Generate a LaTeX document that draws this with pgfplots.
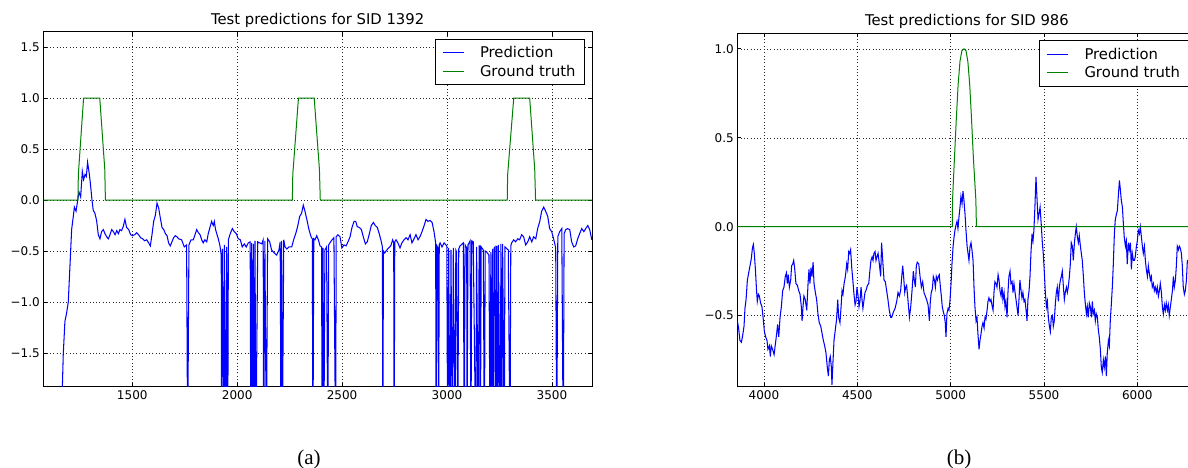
\documentclass[border=0pt]{standalone}
\usepackage{fontspec}
\setmainfont{DejaVu Sans}
\newfontfamily\capfont{Liberation Serif}
\usepackage{pgfplots}
\pgfplotsset{compat=1.18}
\definecolor{pred}{RGB}{0,0,255}
\definecolor{truth}{RGB}{0,128,0}

\pgfplotsset{
  mpl/.style={
    scale only axis,
    axis line style={black, line width=0.8pt},
    tick align=inside,
    tick pos=both,
    major tick length=4pt,
    tick style={black, line width=0.8pt},
    grid=major,
    grid style={black!85, line width=0.5pt, dash pattern=on 1pt off 2.3pt},
    tick label style={font=\fontsize{12}{14}\selectfont},
    title style={font=\fontsize{14.8}{17}\selectfont, yshift=-5pt},
    legend style={at={(1,1)}, xshift=-7pt, yshift=-7pt, anchor=north east,
      draw=black, line width=0.8pt, font=\fontsize{14.8}{17}\selectfont,
      inner xsep=7pt, inner ysep=5pt, row sep=2pt,
      nodes={inner sep=2pt},
      /tikz/every odd column/.append style={column sep=14pt}},
    legend cell align=left,
  },
  predline/.style={draw=pred, line width=1.05pt,
    legend image code/.code={\draw[draw=pred, line width=0.9pt] (0pt,0pt) -- (21pt,0pt);}},
  truthline/.style={draw=truth, line width=1.0pt,
    legend image code/.code={\draw[draw=truth, line width=0.9pt] (0pt,0pt) -- (21pt,0pt);}},
}

\begin{document}
\begin{tikzpicture}
\useasboundingbox (0pt,0pt) rectangle (1188pt,468pt);

% (a) SID 1392
\begin{axis}[mpl,
  at={(43.3pt,81.3pt)}, anchor=south west,
  width=548.7pt, height=355pt,
  xmin=1076, xmax=3691, ymin=-1.83, ymax=1.65,
  xtick={1500,2000,2500,3000,3500},
  xticklabels={1500,2000,2500,3000,3500},
  ytick={-1.5,-1,-0.5,0,0.5,1,1.5},
  yticklabels={−1.5,−1.0,−0.5,0.0,0.5,1.0,1.5},
  title={Test predictions for SID 1392},
]
\addplot[predline] coordinates {
(1166,-1.9) (1171,-1.52) (1179,-1.19) (1187,-1.11) (1195,-1.00) (1203,-0.65) (1211,-0.29) (1219,-0.16)
(1224,-0.07) (1232,-0.11) (1238,-0.03) (1246,0.08) (1254,0.03) (1262,0.28) (1268,0.20) (1275,0.25)
(1281,0.23) (1287,0.37) (1295,0.26) (1302,0.13) (1308,0.00) (1314,-0.10) (1322,-0.13) (1330,-0.20)
(1338,-0.34) (1346,-0.38) (1354,-0.31) (1362,-0.29) (1370,-0.33) (1378,-0.36) (1386,-0.38) (1394,-0.34)
(1402,-0.29) (1410,-0.31) (1418,-0.34) (1426,-0.30) (1434,-0.33) (1441,-0.29) (1449,-0.30) (1457,-0.26)
(1465,-0.19) (1473,-0.27) (1483,-0.29) (1492,-0.34) (1502,-0.35) (1511,-0.34) (1521,-0.32) (1530,-0.34)
(1540,-0.37) (1550,-0.38) (1559,-0.40) (1569,-0.39) (1578,-0.42) (1586,-0.45) (1594,-0.34) (1602,-0.21)
(1610,-0.15) (1618,-0.03) (1626,-0.08) (1634,-0.18) (1642,-0.27) (1650,-0.29) (1658,-0.33) (1666,-0.35)
(1673,-0.42) (1681,-0.45) (1689,-0.41) (1697,-0.37) (1705,-0.35) (1713,-0.36) (1721,-0.38) (1735,-0.39)
(1748,-0.46) (1759,-0.44) (1764,-2.5) (1770,-0.44) (1780,-0.39) (1791,-0.39) (1799,-0.34) (1807,-0.29)
(1815,-0.32) (1823,-0.34) (1831,-0.39) (1838,-0.42) (1846,-0.39) (1855,-0.41) (1862,-0.33) (1870,-0.27)
(1878,-0.21) (1886,-0.25) (1891,-0.21) (1897,-0.29) (1904,-0.34) (1910,-0.38) (1918,-0.45) (1924,-0.54)
(1926,-2.5) (1930,-0.48) (1936,-2.5) (1939,-0.44) (1945,-2.5) (1950,-0.46) (1955,-2.5) (1958,-0.39)
(1967,-0.33) (1977,-0.28) (1986,-0.31) (1996,-0.33) (2005,-0.38) (2015,-0.39) (2024,-0.46) (2034,-0.43)
(2043,-0.46) (2053,-0.42) (2062,-0.41) (2065,-2.5) (2069,-0.42) (2073,-2.5) (2077,-0.43) (2081,-2.5)
(2085,-0.40) (2089,-2.5) (2098,-0.41) (2107,-0.42) (2117,-0.43) (2124,-0.39) (2126,-2.5) (2132,-0.40)
(2139,-2.5) (2145,-0.38) (2155,-0.41) (2164,-0.49) (2177,-0.52) (2188,-0.54) (2199,-0.49) (2205,-0.41)
(2209,-2.5) (2212,-0.40) (2215,-2.5) (2222,-0.39) (2228,-0.46) (2237,-0.48) (2247,-0.46) (2260,-0.46)
(2269,-0.39) (2279,-0.33) (2288,-0.26) (2298,-0.16) (2307,-0.13) (2315,-0.05) (2323,-0.11) (2333,-0.20)
(2342,-0.29) (2352,-0.36) (2358,-0.38) (2361,-2.5) (2365,-0.38) (2371,-0.39) (2379,-0.35) (2387,-0.39)
(2395,-0.45) (2402,-0.46) (2405,-2.5) (2409,-0.47) (2413,-2.5) (2418,-0.49) (2426,-0.46) (2432,-2.5)
(2436,-0.44) (2442,-0.42) (2452,-0.39) (2461,-0.37) (2469,-2.5) (2472,-0.36) (2480,-0.34) (2490,-0.36)
(2499,-0.47) (2509,-0.44) (2519,-0.45) (2528,-0.41) (2538,-0.36) (2547,-0.27) (2557,-0.21) (2565,-0.21)
(2572,-0.26) (2582,-0.27) (2592,-0.29) (2601,-0.36) (2611,-0.43) (2620,-0.41) (2630,-0.33) (2639,-0.25)
(2649,-0.22) (2658,-0.25) (2668,-0.27) (2677,-0.33) (2687,-0.41) (2692,-0.46) (2694,-2.5) (2697,-0.50)
(2703,-0.52) (2713,-0.49) (2722,-0.47) (2732,-0.45) (2741,-0.39) (2746,-0.42) (2748,-2.5) (2751,-0.41)
(2757,-0.39) (2766,-0.42) (2776,-0.47) (2785,-0.42) (2795,-0.39) (2805,-0.37) (2814,-0.39) (2824,-0.34)
(2833,-0.42) (2843,-0.38) (2852,-0.34) (2862,-0.39) (2871,-0.36) (2881,-0.31) (2891,-0.25) (2900,-0.19)
(2909,-0.21) (2919,-0.20) (2929,-0.22) (2938,-0.31) (2946,-0.42) (2948,-2.5) (2952,-0.45) (2957,-0.47)
(2960,-2.5) (2963,-0.44) (2967,-0.42) (2976,-0.46) (2986,-0.42) (2999,-0.45) (3003,-2.5) (3008,-0.47)
(3014,-2.5) (3019,-0.49) (3025,-2.5) (3030,-0.47) (3038,-2.5) (3042,-0.49) (3046,-0.51) (3051,-2.5)
(3056,-0.48) (3062,-0.45) (3078,-0.42) (3082,-2.5) (3086,-0.44) (3094,-0.47) (3095,-2.5) (3100,-0.44)
(3110,-0.40) (3114,-2.5) (3118,-0.40) (3125,-0.41) (3137,-2.5) (3141,-0.46) (3149,-2.5) (3153,-0.45)
(3157,-0.45) (3159,-2.5) (3163,-0.46) (3173,-0.49) (3178,-2.5) (3182,-0.50) (3189,-0.51) (3200,-0.54)
(3205,-2.5) (3209,-0.51) (3213,-2.5) (3217,-0.48) (3221,-2.5) (3225,-0.47) (3229,-0.46) (3232,-2.5)
(3237,-0.45) (3242,-2.5) (3245,-0.44) (3253,-2.5) (3257,-0.43) (3261,-2.5) (3265,-0.43) (3273,-2.5)
(3276,-0.46) (3292,-0.49) (3300,-2.5) (3304,-0.45) (3308,-0.42) (3318,-0.39) (3327,-0.41) (3337,-0.38)
(3346,-0.39) (3356,-0.34) (3365,-0.36) (3375,-0.44) (3385,-0.41) (3394,-0.36) (3404,-0.41) (3413,-0.36)
(3423,-0.38) (3432,-0.28) (3442,-0.21) (3451,-0.11) (3461,-0.07) (3470,-0.11) (3480,-0.16) (3489,-0.28)
(3499,-0.31) (3509,-0.39) (3518,-0.47) (3523,-2.5) (3528,-0.36) (3537,-0.31) (3547,-0.28) (3554,-2.5)
(3558,-0.33) (3566,-0.29) (3575,-0.28) (3585,-0.29) (3594,-0.41) (3604,-0.46) (3613,-0.45) (3623,-0.38)
(3632,-0.33) (3642,-0.28) (3652,-0.31) (3661,-0.28) (3671,-0.25) (3680,-0.29) (3690,-0.39)
};
\addlegendentry{Prediction}
\addplot[truthline] coordinates {
(1076,0) (1241,0) (1243,0.25) (1268,1) (1345,1) (1369,0.3) (1372,0)
(2263,0) (2265,0.25) (2292,1) (2367,1) (2392,0.3) (2396,0)
(3287,0) (3289,0.25) (3318,1) (3394,1) (3418,0.3) (3422,0) (3691,0)
};
\addlegendentry{Ground truth}
\end{axis}

% (b) SID 986
\begin{axis}[mpl,
  at={(737.3pt,81.3pt)}, anchor=south west,
  width=459.2pt, height=353.3pt,
  xmin=3857, xmax=6317, ymin=-0.90, ymax=1.087,
  xtick={4000,4500,5000,5500,6000},
  xticklabels={4000,4500,5000,5500,6000},
  ytick={-0.5,0,0.5,1},
  yticklabels={−0.5,0.0,0.5,1.0},
  title={Test predictions for SID 986},
]
\addplot[predline] coordinates {
(3857,-0.53) (3864,-0.57) (3871,-0.64) (3879,-0.65) (3886,-0.61) (3893,-0.56) (3898,-0.46) (3904,-0.41)
(3911,-0.30) (3918,-0.26) (3925,-0.22) (3932,-0.18) (3938,-0.12) (3943,-0.10) (3948,-0.15) (3954,-0.24)
(3959,-0.34) (3964,-0.42) (3970,-0.38) (3975,-0.39) (3982,-0.43) (3989,-0.45) (3996,-0.52) (4002,-0.59)
(4009,-0.62) (4016,-0.64) (4021,-0.69) (4029,-0.67) (4034,-0.73) (4039,-0.67) (4046,-0.69) (4054,-0.72)
(4061,-0.66) (4068,-0.60) (4073,-0.55) (4079,-0.62) (4086,-0.51) (4093,-0.45) (4100,-0.36) (4107,-0.34)
(4114,-0.28) (4120,-0.26) (4125,-0.32) (4130,-0.27) (4136,-0.34) (4143,-0.30) (4148,-0.22) (4154,-0.21)
(4159,-0.19) (4164,-0.23) (4171,-0.32) (4179,-0.33) (4186,-0.36) (4193,-0.38) (4200,-0.45) (4204,-0.53)
(4209,-0.45) (4214,-0.39) (4221,-0.41) (4229,-0.47) (4236,-0.32) (4241,-0.24) (4246,-0.32) (4252,-0.23)
(4257,-0.28) (4263,-0.20) (4268,-0.32) (4275,-0.37) (4282,-0.41) (4289,-0.49) (4296,-0.54) (4304,-0.56)
(4311,-0.60) (4318,-0.64) (4325,-0.67) (4332,-0.71) (4339,-0.79) (4345,-0.84) (4350,-0.75) (4355,-0.73)
(4361,-0.79) (4364,-0.89) (4370,-0.75) (4375,-0.64) (4382,-0.58) (4389,-0.52) (4395,-0.41) (4400,-0.51)
(4407,-0.54) (4413,-0.45) (4418,-0.36) (4423,-0.38) (4429,-0.32) (4436,-0.28) (4443,-0.21) (4448,-0.24)
(4454,-0.14) (4459,-0.15) (4464,-0.13) (4470,-0.23) (4475,-0.29) (4482,-0.38) (4488,-0.44) (4493,-0.42)
(4498,-0.34) (4504,-0.39) (4509,-0.45) (4514,-0.42) (4520,-0.34) (4525,-0.41) (4530,-0.46) (4536,-0.41)
(4541,-0.37) (4546,-0.36) (4554,-0.33) (4561,-0.32) (4568,-0.24) (4573,-0.19) (4579,-0.17) (4584,-0.19)
(4589,-0.15) (4595,-0.14) (4600,-0.19) (4605,-0.17) (4611,-0.15) (4618,-0.21) (4625,-0.28) (4630,-0.09)
(4636,-0.19) (4643,-0.30) (4650,-0.31) (4657,-0.36) (4664,-0.41) (4671,-0.47) (4679,-0.51) (4684,-0.51)
(4693,-0.48) (4702,-0.46) (4711,-0.42) (4718,-0.37) (4725,-0.39) (4732,-0.36) (4738,-0.28) (4743,-0.22)
(4748,-0.28) (4754,-0.37) (4759,-0.34) (4764,-0.33) (4771,-0.41) (4779,-0.51) (4786,-0.45) (4793,-0.36)
(4800,-0.25) (4805,-0.30) (4811,-0.34) (4816,-0.22) (4821,-0.20) (4829,-0.21) (4836,-0.28) (4843,-0.34)
(4850,-0.31) (4857,-0.37) (4864,-0.39) (4871,-0.41) (4879,-0.44) (4886,-0.53) (4891,-0.42) (4896,-0.37)
(4902,-0.35) (4907,-0.28) (4913,-0.30) (4918,-0.34) (4923,-0.28) (4929,-0.30) (4934,-0.28) (4939,-0.27)
(4945,-0.34) (4950,-0.39) (4955,-0.45) (4961,-0.48) (4966,-0.50) (4971,-0.54) (4975,-0.62) (4980,-0.49)
(4986,-0.46) (4991,-0.47) (4996,-0.42) (5002,-0.32) (5007,-0.21) (5013,-0.11) (5018,-0.06) (5023,-0.02)
(5029,0.01) (5034,0.03) (5039,-0.01) (5045,0.06) (5050,0.11) (5055,0.17) (5061,0.13) (5066,0.20)
(5071,0.15) (5077,0.07) (5082,-0.02) (5088,-0.11) (5093,-0.15) (5098,-0.19) (5104,-0.11) (5109,-0.09)
(5114,-0.13) (5120,-0.19) (5125,-0.34) (5130,-0.45) (5136,-0.53) (5141,-0.51) (5146,-0.60) (5152,-0.69)
(5157,-0.64) (5163,-0.60) (5168,-0.56) (5173,-0.54) (5179,-0.57) (5184,-0.51) (5189,-0.52) (5195,-0.47)
(5200,-0.42) (5205,-0.40) (5211,-0.42) (5216,-0.41) (5221,-0.44) (5227,-0.47) (5232,-0.37) (5237,-0.31)
(5243,-0.32) (5248,-0.34) (5254,-0.27) (5259,-0.30) (5264,-0.36) (5270,-0.39) (5275,-0.34) (5280,-0.41)
(5286,-0.37) (5291,-0.45) (5296,-0.42) (5302,-0.51) (5307,-0.37) (5312,-0.28) (5318,-0.25) (5323,-0.32)
(5329,-0.31) (5334,-0.37) (5339,-0.32) (5345,-0.37) (5350,-0.41) (5355,-0.45) (5361,-0.50) (5366,-0.41)
(5371,-0.30) (5377,-0.36) (5382,-0.40) (5387,-0.37) (5393,-0.42) (5398,-0.41) (5404,-0.47) (5409,-0.53)
(5414,-0.41) (5420,-0.36) (5425,-0.28) (5430,-0.15) (5436,-0.04) (5441,-0.08) (5446,-0.02) (5452,0.13)
(5457,0.28) (5462,0.17) (5468,0.04) (5473,0.07) (5479,0.11) (5486,0.00) (5491,-0.09) (5496,-0.15)
(5502,-0.26) (5507,-0.37) (5513,-0.45) (5518,-0.42) (5523,-0.51) (5529,-0.56) (5534,-0.59) (5539,-0.51)
(5545,-0.50) (5550,-0.56) (5555,-0.53) (5561,-0.43) (5566,-0.37) (5571,-0.34) (5577,-0.42) (5582,-0.34)
(5588,-0.30) (5593,-0.28) (5598,-0.25) (5604,-0.34) (5609,-0.41) (5614,-0.37) (5620,-0.34) (5625,-0.37)
(5630,-0.34) (5636,-0.28) (5641,-0.21) (5646,-0.09) (5652,-0.11) (5657,-0.19) (5663,-0.09) (5668,-0.04)
(5673,0.00) (5679,-0.06) (5684,-0.09) (5689,-0.05) (5695,-0.11) (5700,-0.15) (5705,-0.19) (5711,-0.28)
(5716,-0.37) (5721,-0.43) (5727,-0.49) (5732,-0.45) (5737,-0.51) (5743,-0.43) (5748,-0.45) (5754,-0.51)
(5759,-0.42) (5764,-0.49) (5770,-0.47) (5775,-0.53) (5780,-0.49) (5786,-0.51) (5791,-0.58) (5796,-0.62)
(5802,-0.69) (5807,-0.79) (5812,-0.82) (5818,-0.75) (5823,-0.79) (5829,-0.73) (5834,-0.84) (5839,-0.71)
(5845,-0.64) (5850,-0.67) (5855,-0.53) (5861,-0.43) (5866,-0.34) (5871,-0.22) (5877,-0.04) (5882,0.04)
(5888,0.07) (5893,0.09) (5898,0.17) (5904,0.26) (5909,0.21) (5914,0.15) (5920,0.11) (5925,0.02)
(5930,-0.06) (5936,-0.11) (5941,-0.08) (5946,-0.21) (5952,-0.09) (5957,-0.13) (5963,-0.09) (5968,-0.24)
(5973,-0.15) (5979,-0.19) (5984,-0.19) (5989,-0.17) (5995,-0.11) (6000,-0.08) (6005,-0.02) (6011,-0.04)
(6016,0.00) (6021,-0.05) (6027,-0.11) (6032,-0.15) (6038,-0.11) (6043,-0.19) (6048,-0.24) (6054,-0.28)
(6059,-0.22) (6064,-0.26) (6070,-0.30) (6075,-0.28) (6080,-0.34) (6086,-0.32) (6091,-0.36) (6096,-0.34)
(6102,-0.37) (6107,-0.34) (6113,-0.39) (6118,-0.36) (6123,-0.32) (6129,-0.37) (6134,-0.45) (6139,-0.49)
(6145,-0.44) (6150,-0.47) (6155,-0.43) (6161,-0.47) (6166,-0.44) (6171,-0.50) (6177,-0.45) (6182,-0.41)
(6188,-0.36) (6193,-0.28) (6198,-0.34) (6204,-0.30) (6209,-0.22) (6214,-0.11) (6220,-0.13) (6225,-0.11)
(6230,-0.12) (6236,-0.15) (6241,-0.22) (6246,-0.34) (6252,-0.38) (6257,-0.36) (6263,-0.30) (6268,-0.19)
(6275,-0.19) (6283,-0.24) (6292,-0.21) (6300,-0.27) (6310,-0.25)
};
\addlegendentry{Prediction}
\addplot[truthline] coordinates {
(3857,0) (5009,0) (5010,0.15) (5020,0.38) (5030,0.60) (5040,0.80) (5050,0.93) (5060,0.99)
(5071,1.00) (5082,0.99) (5092,0.93) (5102,0.80) (5112,0.60) (5122,0.38) (5135,0.15) (5138,0) (6317,0)
};
\addlegendentry{Ground truth}
\end{axis}

\node[font=\capfont\fontsize{21}{24}\selectfont] at (309pt,9pt) {(a)};
\node[font=\capfont\fontsize{21}{24}\selectfont] at (959pt,9pt) {(b)};
\end{tikzpicture}
\end{document}
